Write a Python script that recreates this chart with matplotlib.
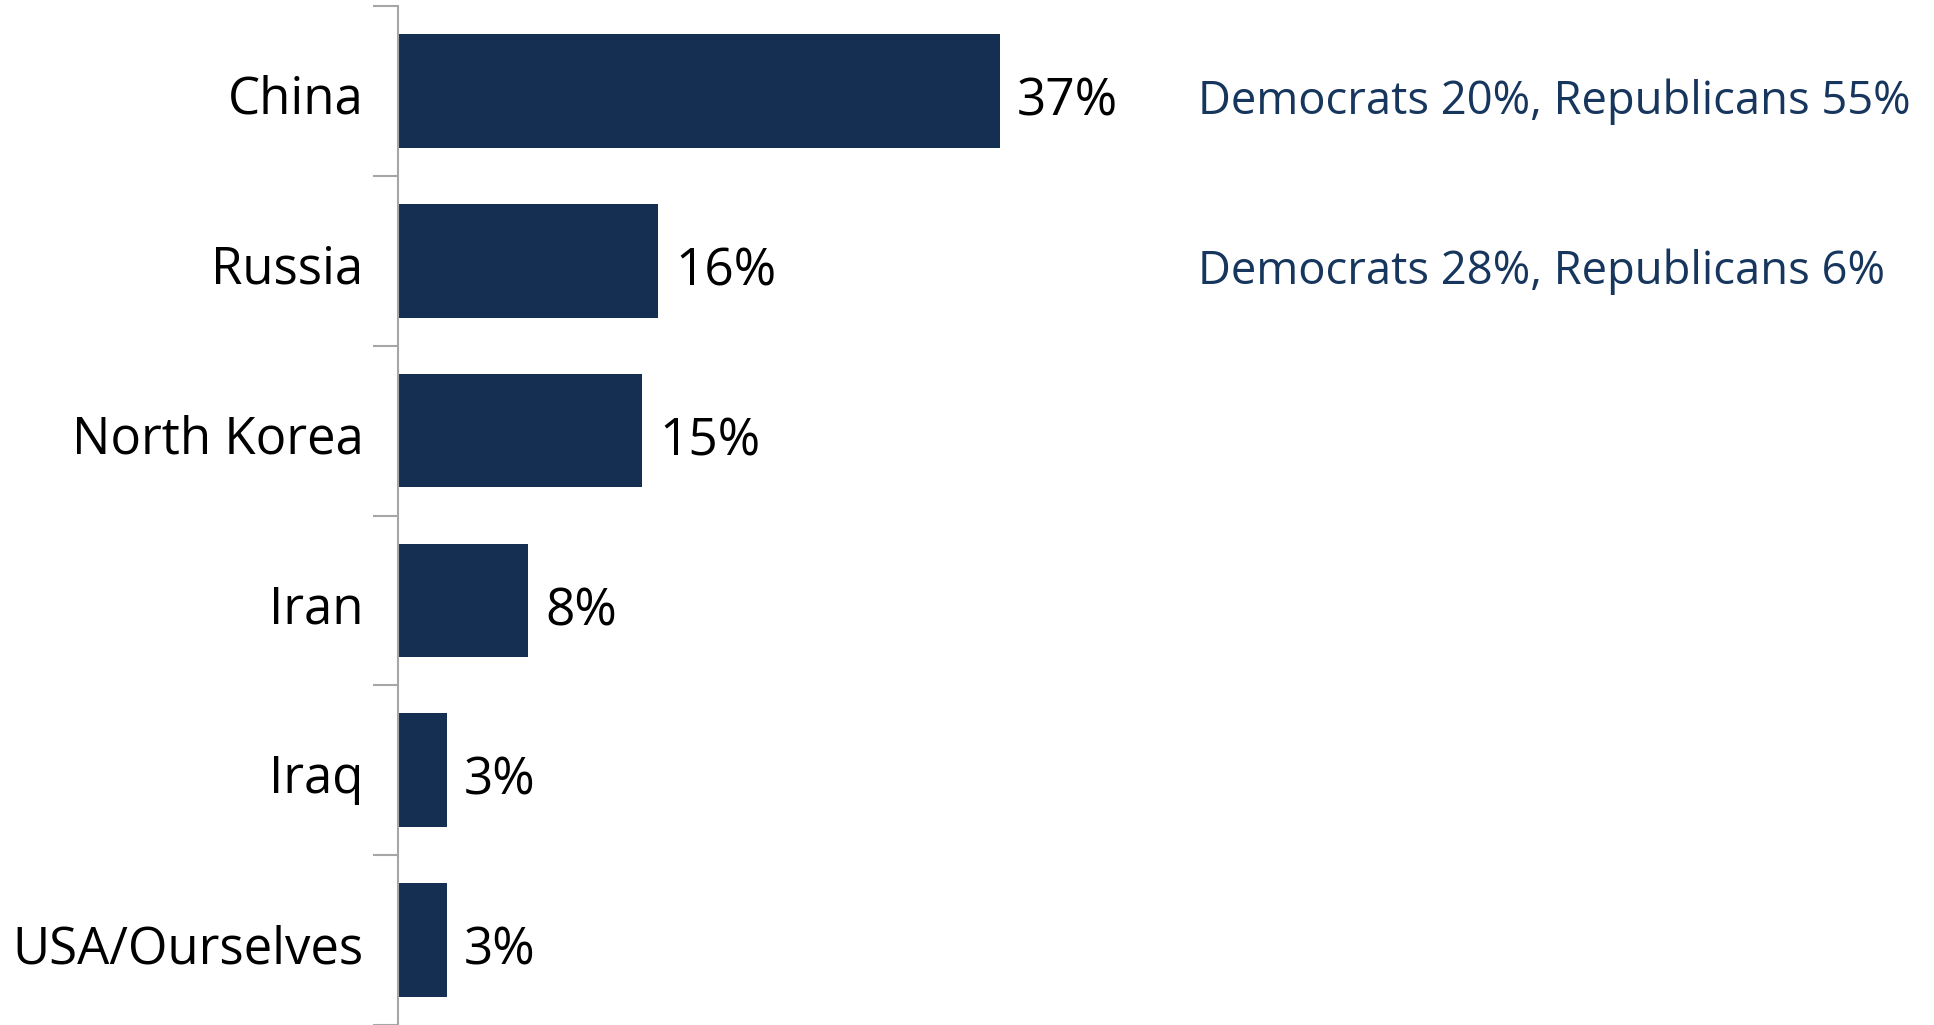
import numpy as np
import matplotlib
matplotlib.use("Agg")
import matplotlib.pyplot as plt
import matplotlib.transforms as mtransforms

# data
countries = ["China", "Russia", "North Korea", "Iran", "Iraq", "USA/Ourselves"]
shares = [37, 16, 15, 8, 3, 3]
party_notes = ["Democrats 20%, Republicans 55%", "Democrats 28%, Republicans 6%",
               "", "", "", ""]

bar_color = "#142f52"
note_color = "#17365d"

plt.rcParams["font.family"] = ["Open Sans", "DejaVu Sans"]

W, H = 1934, 1025
fig = plt.figure(figsize=(W / 100, H / 100), dpi=100)
left = 398 / W
top = 6 / H
ax = fig.add_axes([left, 0, 1 - left, 1 - top])

# nudge text a bit lower to sit like the original
shift = mtransforms.ScaledTranslation(0, -8 / 72, fig.dpi_scale_trans)
lbl_shift = mtransforms.ScaledTranslation(0, -2.5 / 72, fig.dpi_scale_trans)

y = np.arange(len(countries))
ax.barh(y, shares, height=0.67, color=bar_color)

ax.set_xlim(0, (W - 398) / 16.27)
ax.set_ylim(len(countries) - 0.5, -0.5)

for yi, v in zip(y, shares):
    ax.text(v + 1.05, yi, f"{v}%", ha="left", va="center", fontsize=37, color="black",
            transform=ax.transData + shift)

for yi, note in zip(y, party_notes):
    if note:
        ax.text(49.2, yi, note, ha="left", va="center", fontsize=32.7, color=note_color,
                transform=ax.transData + shift)

# boundary ticks like the original, labels centred between them
ax.set_yticks(np.arange(-0.5, len(countries) + 0.5, 1))
ax.set_yticklabels([])
ax.set_yticks(y, minor=True)
ax.set_yticklabels(countries, minor=True, fontsize=36.6)
ax.tick_params(axis="y", which="major", length=18, width=1.5, color="#a6a6a6", direction="out")
ax.tick_params(axis="y", which="minor", length=0, pad=25)
for lbl in ax.get_yticklabels(minor=True):
    lbl.set_transform(lbl.get_transform() + lbl_shift)
ax.set_xticks([])

for s in ["top", "right", "bottom"]:
    ax.spines[s].set_visible(False)
ax.spines["left"].set_color("#a6a6a6")
ax.spines["left"].set_linewidth(1.5)

fig.savefig("out.png", dpi=100)
